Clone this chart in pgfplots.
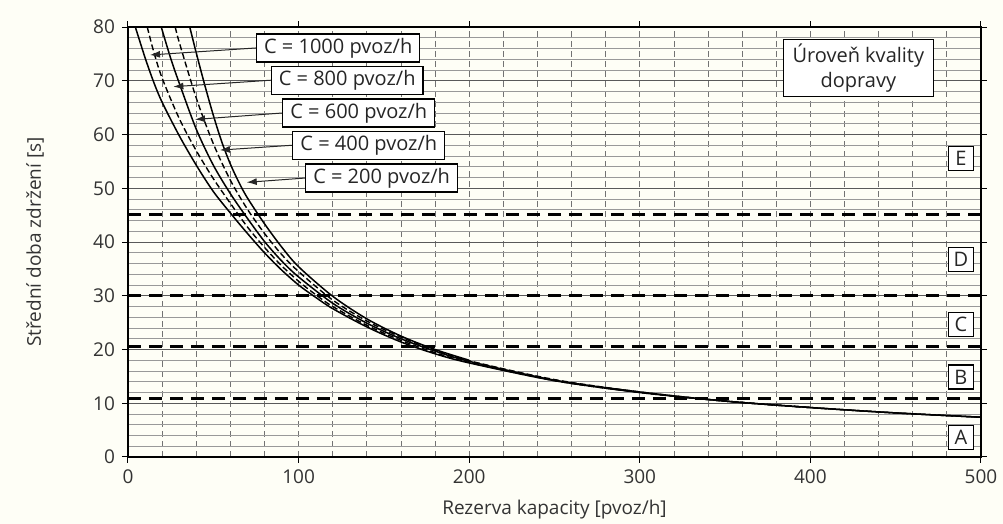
\documentclass[border=0pt]{standalone}
\usepackage{pgfplots}
\pgfplotsset{compat=1.18}
\usepackage{fontspec}
\setmainfont{Open Sans}
\usetikzlibrary{arrows.meta}
\definecolor{bg}{RGB}{254,254,246}

\tikzset{
  box/.style={draw, fill=white, line width=0.6pt, inner xsep=3.8pt, inner ysep=0pt,
    minimum height=14pt, font=\fontsize{10}{12}\selectfont, text=black!85},
  lbox/.style={draw, fill=white, line width=0.6pt, inner sep=0pt,
    minimum width=12.5pt, minimum height=12pt, font=\fontsize{10}{12}\selectfont, text=black!85},
  arr/.style={-{Latex[length=5pt,width=3.5pt]}, line width=0.5pt, black!85},
}

\begin{document}
\begin{tikzpicture}
\path[use as bounding box, fill=bg] (-64pt,-33.5pt) rectangle (437.5pt,228.5pt);
\begin{axis}[
  at={(0,0)}, anchor=south west,
  scale only axis, width=426.5pt, height=215pt,
  xmin=0, xmax=500, ymin=0, ymax=80,
  xtick={0,100,...,500}, ytick={0,10,...,80},
  minor x tick num=4, minor y tick num=4,
  grid=both,
  major x grid style={black!55, densely dashed, line width=0.4pt},
  minor x grid style={black!55, densely dashed, line width=0.4pt},
  major y grid style={black!65, line width=0.45pt},
  minor y grid style={black!40, line width=0.4pt},
  tick align=outside, major tick length=3pt, minor tick length=0pt,
  tick style={black, line width=0.5pt},
  axis line style={line width=0.8pt},
  /pgf/number format/assume math mode=true,
  tick label style={font=\fontsize{9.5}{11}\selectfont, text=black!80},
  label style={font=\fontsize{9.5}{11}\selectfont, text=black!80},
  xlabel={Rezerva kapacity [pvoz/h]},
  ylabel={Střední doba zdržení [s]},
  xlabel style={at={(axis description cs:0.5,-0.123)}, anchor=center},
  ylabel style={at={(axis description cs:-0.109,0.5)}, anchor=center},
  clip=true,
]
% LOS threshold lines
\addplot[black, line width=1.5pt, dash pattern=on 6.5pt off 4pt] coordinates {(0,10.9) (500,10.9)};
\addplot[black, line width=1.5pt, dash pattern=on 6.5pt off 4pt] coordinates {(0,20.5) (500,20.5)};
\addplot[black, line width=1.5pt, dash pattern=on 6.5pt off 4pt] coordinates {(0,30.1) (500,30.1)};
\addplot[black, line width=1.5pt, dash pattern=on 6.5pt off 4pt] coordinates {(0,45.2) (500,45.2)};

% C = 1000
\addplot[black, line width=0.75pt, smooth] coordinates {
 (4.3,80) (10,74.3) (15,69.8) (20,66) (30,59.8) (40,54.3) (50,49.4) (60,45.4)
 (70,41.6) (80,38) (90,34.8) (100,32) (110,29.7) (120,27.6) (140,24.2) (160,21.4)
 (180,19.2) (200,17.5) (250,14.2) (300,12) (350,10.4) (400,9.2) (450,8.2) (500,7.4)};
% C = 800
\addplot[black, line width=0.7pt, dash pattern=on 3pt off 1.5pt, smooth] coordinates {
 (11.3,80) (15,75.5) (20,70.5) (30,63) (40,57) (50,51.8) (60,47.2) (70,42.8)
 (80,39) (90,35.6) (100,32.7) (110,30.2) (120,28) (140,24.5) (160,21.7) (180,19.4)
 (200,17.6) (250,14.2) (300,12) (350,10.4) (400,9.2) (450,8.2) (500,7.4)};
% C = 600
\addplot[black, line width=0.75pt, smooth] coordinates {
 (19.5,80) (25,74.2) (30,69.6) (40,61) (50,54.3) (60,49) (70,44.4) (80,40.1)
 (90,36.5) (100,33.5) (120,28.6) (140,24.9) (160,22) (180,19.7) (200,17.8)
 (250,14.3) (300,12.1) (350,10.4) (400,9.2) (450,8.2) (500,7.4)};
% C = 400
\addplot[black, line width=0.7pt, dash pattern=on 3pt off 1.5pt, smooth] coordinates {
 (27.7,80) (30,77.2) (40,66.8) (50,58.3) (60,51.5) (70,46.1) (80,41.6) (90,37.7)
 (100,34.5) (120,29.2) (140,25.3) (160,22.3) (180,19.9) (200,17.9) (250,14.4)
 (300,12.1) (350,10.4) (400,9.2)};
% C = 200
\addplot[black, line width=0.75pt, smooth] coordinates {
 (36.2,80) (40,75.2) (45,69.2) (50,63.6) (55,58.6) (60,54.5) (65,51.1) (70,48.2)
 (80,43.4) (90,39.1) (100,35.4) (120,29.9) (140,25.7) (160,22.5) (180,20) (200,18)};

% labels with arrows
\draw[arr] (axis cs:75,76.1) -- (axis cs:12.9,74.8);
\node[box, anchor=west] at (axis cs:75,76.1) {C = 1000 pvoz/h};
\draw[arr] (axis cs:83.6,70.1) -- (axis cs:26.6,68.9);
\node[box, anchor=west] at (axis cs:83.6,70.1) {C = 800 pvoz/h};
\draw[arr] (axis cs:90.4,64.0) -- (axis cs:39.3,62.8);
\node[box, anchor=west] at (axis cs:90.4,64.0) {C = 600 pvoz/h};
\draw[arr] (axis cs:96.3,58.0) -- (axis cs:53.9,57.1);
\node[box, anchor=west] at (axis cs:96.3,58.0) {C = 400 pvoz/h};
\draw[arr] (axis cs:103.8,51.9) -- (axis cs:69.6,51.1);
\node[box, anchor=west] at (axis cs:103.8,51.9) {C = 200 pvoz/h};

% level of service
\node[draw, fill=white, line width=0.6pt, align=center, minimum width=75pt,
  minimum height=28.5pt, inner sep=1pt, font=\fontsize{10}{12.5}\selectfont, text=black!85]
  at (axis cs:428.1,72.4) {Úroveň kvality\\dopravy};
\node[lbox] at (axis cs:488.2,55.6) {E};
\node[lbox] at (axis cs:488.2,36.8) {D};
\node[lbox] at (axis cs:488.2,24.7) {C};
\node[lbox] at (axis cs:488.2,14.9) {B};
\node[lbox] at (axis cs:488.2,3.6) {A};
\end{axis}
\end{tikzpicture}
\end{document}
